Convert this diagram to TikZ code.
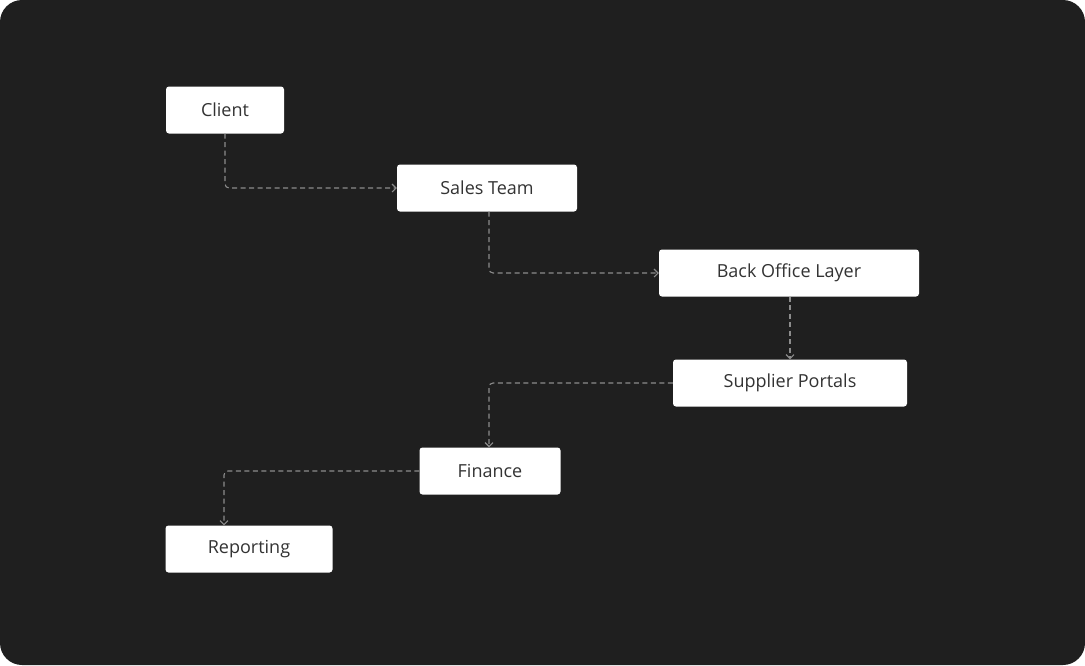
\documentclass[tikz,border=0pt]{standalone}
\usepackage{fontspec}
\setmainfont{Open Sans}
\usetikzlibrary{arrows.meta}
\definecolor{bg}{HTML}{1F1F1F}
\definecolor{ln}{HTML}{8C8C8C}
\definecolor{tx}{HTML}{333333}
\begin{document}
\begin{tikzpicture}[x=1pt,y=-1pt,
  box/.style={fill=white,rounded corners=3pt,minimum height=47pt,inner xsep=0pt,text=tx,font=\fontsize{18}{20}\selectfont},
  con/.style={draw=ln,line width=1.1pt,dash pattern=on 5pt off 3.5pt,rounded corners=4pt,-{Straight Barb[length=4pt,width=8pt]}}]
\useasboundingbox (0,0) rectangle (1085,665);
\fill[white] (0,0) rectangle (1085,665);
\fill[bg,rounded corners=22pt] (0,0) rectangle (1085,665);
\node[box,minimum width=118pt] (client) at (225,110) {Client};
\node[box,minimum width=180pt] (sales) at (487,188) {Sales Team};
\node[box,minimum width=260pt] (back) at (789,273) {Back Office Layer};
\node[box,minimum width=234pt] (sup) at (790,383) {Supplier Portals};
\node[box,minimum width=141pt] (fin) at (490,471) {Finance};
\node[box,minimum width=167pt] (rep) at (249,549) {Reporting};
\draw[con] (client.south) |- (sales.west);
\draw[con] ([xshift=2pt]sales.south) |- (back.west);
\draw[con] ([xshift=1pt]back.south) -- ([xshift=1pt]back.south |- sup.north);
\draw[con] (sup.west) -| ([xshift=-1pt]fin.north);
\draw[con] (fin.west) -| ([xshift=-25pt]rep.north);
\end{tikzpicture}
\end{document}
